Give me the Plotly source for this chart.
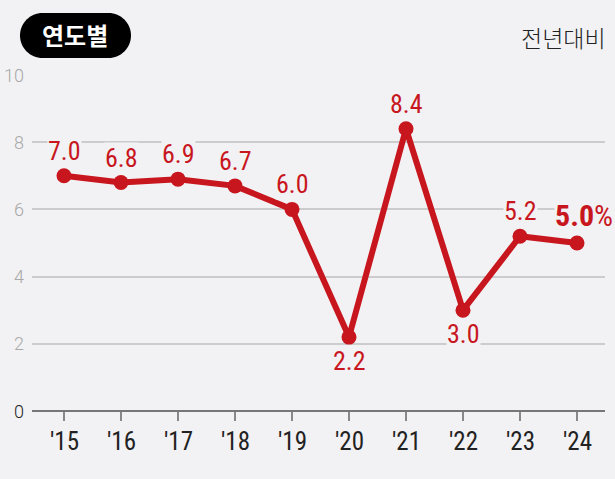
import plotly.graph_objects as go

years = ["'15", "'16", "'17", "'18", "'19", "'20", "'21", "'22", "'23", "'24"]
values = [7.0, 6.8, 6.9, 6.7, 6.0, 2.2, 8.4, 3.0, 5.2, 5.0]
label_below = [False, False, False, False, False, True, False, True, False, False]
y_ticks = [0, 2, 4, 6, 8, 10]

RED = "#c8161e"
BG = "#f2f2f4"
NUM_FONT = "'Liberation Sans Narrow', 'Roboto Condensed', Roboto, sans-serif"
W, H = 615, 479
ML, MR, MT, MB = 32, 10, 75, 68
PW, PH = W - ML - MR, H - MT - MB

xs = list(range(len(years)))

def px_x(p):
    return (p - ML) / PW

def px_y(p):
    return (H - MB - p) / PH

fig = go.Figure()
fig.add_trace(go.Scatter(
    x=xs, y=values, mode="lines+markers",
    line=dict(color=RED, width=6),
    marker=dict(color=RED, size=15),
    cliponaxis=False, hoverinfo="skip",
))

annotations = []
for i, (x, v) in enumerate(zip(xs, values)):
    last = i == len(values) - 1
    if last:
        annotations.append(dict(
            x=px_x(614), xref="paper", y=v, yref="y",
            text="<b>%.1f</b>%%" % v,
            showarrow=False, xanchor="right", yshift=28, bgcolor=BG, borderpad=0,
            font=dict(family=NUM_FONT, size=30, color=RED),
        ))
    else:
        annotations.append(dict(
            x=x, y=v, xref="x", yref="y", text="%.1f" % v, showarrow=False,
            bgcolor=BG, borderpad=0,
            font=dict(family=NUM_FONT, size=26, color=RED),
            yshift=-24 if label_below[i] else 25,
        ))

# y tick labels
for t in y_ticks:
    annotations.append(dict(
        x=0, xref="paper", y=t, yref="y", text=str(t), showarrow=False,
        xanchor="right", xshift=-6,
        font=dict(family="Roboto, sans-serif", size=18, weight=300,
                  color="#222222" if t == 0 else "#a8a8a8"),
    ))

# x tick labels
for x, lab in zip(xs, years):
    annotations.append(dict(
        x=x, xref="x", y=px_y(442), yref="paper", text=lab, showarrow=False,
        yanchor="middle",
        font=dict(family=NUM_FONT, size=25, color="#222222"),
    ))

annotations.append(dict(
    x=px_x(75), y=px_y(35), xref="paper", yref="paper", text="<b>연도별</b>",
    showarrow=False, xanchor="center", yanchor="middle",
    font=dict(family="Noto Sans CJK KR", size=24, color="white"),
))
annotations.append(dict(
    x=px_x(608), y=px_y(37), xref="paper", yref="paper", text="전년대비",
    showarrow=False, xanchor="right", yanchor="middle",
    font=dict(family="Noto Sans CJK KR", size=23, weight=300, color="#222222"),
))

# rounded pill path
x0, x1, y0, y1, r = 20, 131, 13, 58, 22.5
def P(a, b):
    return "%.5f,%.5f" % (px_x(a), px_y(b))
k = 0.5523 * r
path = ("M" + P(x0 + r, y0) + " L" + P(x1 - r, y0) +
        " C" + P(x1 - r + k, y0) + " " + P(x1, y0 + r - k) + " " + P(x1, y0 + r) +
        " C" + P(x1, y0 + r + k) + " " + P(x1 - r + k, y1) + " " + P(x1 - r, y1) +
        " L" + P(x0 + r, y1) +
        " C" + P(x0 + r - k, y1) + " " + P(x0, y0 + r + k) + " " + P(x0, y0 + r) +
        " C" + P(x0, y0 + r - k) + " " + P(x0 + r - k, y0) + " " + P(x0 + r, y0) + " Z")

fig.update_layout(
    width=W, height=H,
    margin=dict(l=ML, r=MR, t=MT, b=MB),
    paper_bgcolor=BG, plot_bgcolor=BG,
    showlegend=False,
    annotations=annotations,
    shapes=[dict(type="path", path=path, xref="paper", yref="paper",
                 fillcolor="black", line=dict(width=0), layer="below")],
    xaxis=dict(
        range=[-32 / 57, 9 + 28 / 57], tickvals=xs, showticklabels=False,
        showgrid=False, zeroline=False, showline=False,
        ticks="outside", ticklen=9, tickwidth=1.5, tickcolor="#888888",
        fixedrange=True,
    ),
    yaxis=dict(
        range=[0, 10], tickvals=y_ticks, showticklabels=False,
        showgrid=True, gridcolor="#cccccc", gridwidth=1.5,
        zeroline=True, zerolinecolor="#777777", zerolinewidth=2,
        showline=False, fixedrange=True,
    ),
)

fig.write_html("out.html", config={"displayModeBar": False},
               post_script="document.body.style.margin='0';document.body.style.overflow='hidden';")
